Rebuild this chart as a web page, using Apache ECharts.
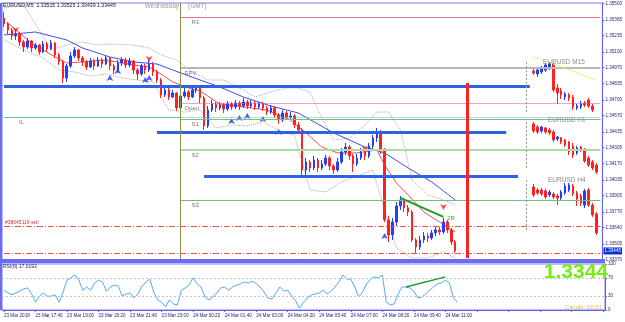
<!DOCTYPE html>
<html>
<head>
<meta charset="utf-8">
<script src="https://cdn.jsdelivr.net/npm/echarts@6/dist/echarts.min.js"></script>
<style>
  html, body { margin: 0; padding: 0; background: #fff; }
  #chart { width: 625px; height: 322px; }
</style>
</head>
<body>
<div id="chart"></div>
<script>
// ---- data ----
const slotCount = 153; // bar slots across the window (incl. right shift)
const tickLabels = ['23 Mar 2018', '23 Mar 17:40', '23 Mar 19:00', '23 Mar 20:20', '23 Mar 21:40',
  '23 Mar 23:00', '24 Mar 00:20', '24 Mar 01:40', '24 Mar 03:00', '24 Mar 04:20',
  '24 Mar 05:40', '24 Mar 07:00', '24 Mar 08:20', '24 Mar 09:40', '24 Mar 11:00'];
const priceTicks = [1.35500, 1.35365, 1.35235, 1.35100, 1.34970, 1.34835, 1.34700, 1.34570, 1.34435,
  1.34305, 1.34170, 1.34035, 1.33905, 1.33770, 1.33640, 1.33505, 1.33370];
const rsiTicks = [0, 30, 70, 100];

// EURUSD M5 bars: [open, close, low, high]
const candles = [
  [1.35381,1.35332,1.35307,1.35431],[1.35332,1.35282,1.35248,1.35348],[1.35282,1.35232,1.35199,1.35298],
  [1.35232,1.35248,1.35199,1.35282],[1.35248,1.35182,1.35149,1.35265],[1.35182,1.35140,1.35099,1.35199],
  [1.35140,1.35190,1.35124,1.35215],[1.35190,1.35132,1.35099,1.35199],[1.35132,1.35157,1.35116,1.35174],
  [1.35157,1.35099,1.35074,1.35165],[1.35099,1.35165,1.35091,1.35190],[1.35165,1.35124,1.35099,1.35182],
  [1.35124,1.35174,1.35116,1.35199],[1.35174,1.35074,1.35049,1.35182],[1.35074,1.35016,1.34991,1.35091],
  [1.35016,1.34883,1.34841,1.35032],[1.34883,1.34983,1.34850,1.34999],[1.34983,1.35066,1.34966,1.35099],
  [1.35066,1.35116,1.35049,1.35140],[1.35116,1.35049,1.35024,1.35124],[1.35049,1.35016,1.34983,1.35066],
  [1.35016,1.34974,1.34949,1.35032],[1.34974,1.35024,1.34966,1.35049],[1.35024,1.34983,1.34949,1.35041],
  [1.34983,1.35032,1.34974,1.35057],[1.35032,1.34999,1.34966,1.35049],[1.34999,1.35049,1.34991,1.35066],
  [1.35049,1.34983,1.34949,1.35057],[1.34983,1.34949,1.34916,1.34999],[1.34949,1.35007,1.34933,1.35032],
  [1.35007,1.35032,1.34983,1.35057],[1.35032,1.34991,1.34966,1.35049],[1.34991,1.35024,1.34974,1.35049],
  [1.35024,1.34949,1.34916,1.35032],[1.34949,1.34916,1.34866,1.34966],[1.34916,1.34983,1.34899,1.34999],
  [1.34983,1.34949,1.34916,1.34999],[1.34949,1.34999,1.34933,1.35032],[1.34999,1.34933,1.34899,1.35016],
  [1.34933,1.34866,1.34841,1.34949],[1.34866,1.34742,1.34717,1.34883],[1.34742,1.34783,1.34725,1.34816],
  [1.34783,1.34725,1.34700,1.34800],[1.34725,1.34758,1.34717,1.34783],[1.34758,1.34634,1.34609,1.34766],
  [1.34634,1.34733,1.34617,1.34758],[1.34733,1.34766,1.34717,1.34816],[1.34766,1.34725,1.34700,1.34783],
  [1.34725,1.34783,1.34717,1.34816],[1.34783,1.34800,1.34758,1.34825],[1.34800,1.34717,1.34675,1.34816],
  [1.34717,1.34484,1.34451,1.34733],[1.34484,1.34617,1.34467,1.34650],[1.34617,1.34667,1.34600,1.34700],
  [1.34667,1.34634,1.34600,1.34683],[1.34634,1.34658,1.34617,1.34683],[1.34658,1.34625,1.34592,1.34675],
  [1.34625,1.34667,1.34609,1.34692],[1.34667,1.34642,1.34617,1.34683],[1.34642,1.34675,1.34625,1.34700],
  [1.34675,1.34650,1.34617,1.34692],[1.34650,1.34683,1.34634,1.34717],[1.34683,1.34650,1.34625,1.34700],
  [1.34650,1.34675,1.34634,1.34700],[1.34675,1.34642,1.34617,1.34692],[1.34642,1.34667,1.34625,1.34683],
  [1.34667,1.34634,1.34609,1.34683],[1.34634,1.34600,1.34575,1.34650],[1.34600,1.34634,1.34584,1.34658],
  [1.34634,1.34575,1.34550,1.34650],[1.34575,1.34534,1.34501,1.34592],[1.34534,1.34592,1.34517,1.34617],
  [1.34592,1.34559,1.34534,1.34609],[1.34559,1.34567,1.34534,1.34600],[1.34567,1.34492,1.34467,1.34584],
  [1.34492,1.34451,1.34426,1.34517],[1.34451,1.34118,1.34060,1.34467],[1.34118,1.34185,1.34077,1.34218],
  [1.34185,1.34135,1.34102,1.34201],[1.34135,1.34201,1.34118,1.34235],[1.34201,1.34135,1.34102,1.34218],
  [1.34135,1.34168,1.34118,1.34201],[1.34168,1.34218,1.34152,1.34243],[1.34218,1.34152,1.34118,1.34235],
  [1.34152,1.34118,1.34085,1.34168],[1.34118,1.34185,1.34102,1.34218],[1.34185,1.34268,1.34168,1.34301],
  [1.34268,1.34309,1.34243,1.34343],[1.34309,1.34235,1.34201,1.34326],[1.34235,1.34168,1.34102,1.34251],
  [1.34168,1.34218,1.34152,1.34251],[1.34218,1.34268,1.34201,1.34301],[1.34268,1.34235,1.34201,1.34285],
  [1.34235,1.34318,1.34218,1.34343],[1.34318,1.34384,1.34285,1.34409],[1.34384,1.34434,1.34351,1.34467],
  [1.34434,1.34285,1.34251,1.34451],[1.34285,1.33703,1.33686,1.34301],[1.33703,1.33578,1.33520,1.33736],
  [1.33578,1.33686,1.33537,1.33719],[1.33686,1.33819,1.33653,1.33852],[1.33819,1.33869,1.33786,1.33902],
  [1.33869,1.33803,1.33769,1.33886],[1.33803,1.33769,1.33736,1.33827],[1.33769,1.33537,1.33520,1.33786],
  [1.33537,1.33478,1.33429,1.33553],[1.33478,1.33537,1.33454,1.33570],[1.33537,1.33570,1.33512,1.33603],
  [1.33570,1.33553,1.33520,1.33595],[1.33553,1.33595,1.33537,1.33620],[1.33595,1.33620,1.33570,1.33653],
  [1.33620,1.33603,1.33578,1.33645],[1.33603,1.33686,1.33587,1.33719],[1.33686,1.33620,1.33595,1.33703],
  [1.33620,1.33520,1.33495,1.33636],[1.33520,1.33445,1.33429,1.33537]
];

// small multi-timeframe insets drawn in the right-hand shift area
const insetStart = 135;
const m15Bars = [
  [1.34941,1.34924,1.34908,1.34958],[1.34916,1.34949,1.34891,1.34966],[1.34933,1.34966,1.34916,1.34983],
  [1.34949,1.34991,1.34933,1.35007],[1.34966,1.34999,1.34949,1.35016],[1.34999,1.34783,1.34766,1.35007],
  [1.34800,1.34758,1.34667,1.34833],[1.34775,1.34742,1.34708,1.34800],[1.34725,1.34750,1.34700,1.34766],
  [1.34742,1.34717,1.34692,1.34758],[1.34725,1.34642,1.34617,1.34742],[1.34634,1.34650,1.34617,1.34667],
  [1.34642,1.34667,1.34625,1.34692],[1.34675,1.34658,1.34642,1.34692],[1.34700,1.34650,1.34634,1.34717],
  [1.34650,1.34617,1.34600,1.34667]
];
const h1Bars = [
  [1.34501,1.34442,1.34426,1.34517],[1.34476,1.34434,1.34417,1.34492],[1.34442,1.34476,1.34426,1.34484],
  [1.34467,1.34434,1.34417,1.34476],[1.34451,1.34426,1.34409,1.34467],[1.34434,1.34368,1.34351,1.34451],
  [1.34376,1.34393,1.34359,1.34401],[1.34384,1.34351,1.34334,1.34393],[1.34368,1.34326,1.34309,1.34376],
  [1.34351,1.34268,1.34243,1.34359],[1.34318,1.34243,1.34218,1.34343],[1.34260,1.34301,1.34243,1.34318],
  [1.34309,1.34285,1.34268,1.34318],[1.34285,1.34193,1.34177,1.34301],[1.34218,1.34160,1.34143,1.34235],
  [1.34185,1.34135,1.34118,1.34201],[1.34160,1.34102,1.34085,1.34177]
];
const h4Bars = [
  [1.33977,1.33911,1.33894,1.34002],[1.33952,1.33927,1.33911,1.33969],[1.33952,1.33919,1.33902,1.33969],
  [1.33944,1.33894,1.33877,1.33960],[1.33911,1.33935,1.33894,1.33952],[1.33919,1.33894,1.33877,1.33935],
  [1.33902,1.33886,1.33827,1.33919],[1.33886,1.33935,1.33869,1.33952],[1.33927,1.33985,1.33911,1.34010],
  [1.33952,1.33994,1.33935,1.34010],[1.33985,1.33919,1.33902,1.34002],[1.33927,1.33877,1.33819,1.33944],
  [1.33902,1.33844,1.33819,1.33919],[1.33827,1.33944,1.33803,1.33960],[1.33952,1.33827,1.33811,1.33969],
  [1.33827,1.33745,1.33728,1.33844],[1.33753,1.33595,1.33578,1.33769]
];

// indicator lines: [bar, price]
const slowMa = [[0,1.35240],[8,1.35265],[16,1.35199],[20,1.35132],[27,1.35057],[33,1.35016],[39,1.34999],
  [43,1.34949],[50,1.34866],[55,1.34808],[61,1.34725],[68,1.34650],[75,1.34592],[84,1.34426],[92,1.34309],
  [97,1.34260],[103,1.34135],[109,1.34019],[115,1.33869]];
const fastMa = [[1,1.35340],[4,1.35257],[7,1.35174],[13,1.35057],[16,1.35007],[20,1.35016],[25,1.35032],
  [29,1.35016],[33,1.34991],[37,1.34974],[40,1.34916],[43,1.34850],[47,1.34800],[50,1.34775],[55,1.34667],
  [67,1.34617],[73,1.34534],[77,1.34426],[81,1.34309],[85,1.34260],[90,1.34260],[95,1.34285],[97,1.34160],
  [100,1.34010],[103,1.33911],[107,1.33769],[111,1.33686],[115,1.33603]];
const upperBand = [[0,1.35465],[5,1.35489],[9,1.35282],[12,1.35116],[16,1.35157],[20,1.35182],[24,1.35157],
  [28,1.35165],[33,1.35157],[37,1.35132],[40,1.35074],[44,1.35032],[48,1.34933],[52,1.34866],[56,1.34866],
  [60,1.34800],[64,1.34725],[68,1.34766],[72,1.34800],[75,1.34800],[78,1.34766],[80,1.34617],[84,1.34368],
  [88,1.34384],[92,1.34492],[95,1.34600],[98,1.34600],[101,1.34451],[104,1.34035],[108,1.33911],
  [112,1.33869],[115,1.33827]];
const lowerBand = [[0,1.35199],[5,1.35116],[10,1.35049],[14,1.34949],[18,1.34933],[22,1.34899],[26,1.34916],
  [30,1.34883],[34,1.34866],[38,1.34850],[42,1.34617],[46,1.34600],[50,1.34617],[54,1.34467],[58,1.34492],
  [62,1.34484],[66,1.34517],[70,1.34451],[74,1.34409],[78,1.33952],[82,1.33935],[86,1.34019],[90,1.34069],
  [94,1.34118],[97,1.33786],[100,1.33470],[104,1.33387],[108,1.33387],[112,1.33437],[115,1.33387]];

const buyArrows = [[27,1.34908],[29,1.34966],[36,1.34891],[37,1.34908],[58,1.34550],[60,1.34575],
  [62,1.34592],[66,1.34567],[70,1.34459],[97,1.33595]];
const sellArrows = [[3,1.35257],[37,1.35016],[92,1.34268],[112,1.33786]];

// RSI(8), one value per bar
const rsiValues = [43,37,33,37,41,46,48,35,17,30, 37,30,30,33,17,39,65,70,76,65,
  43,50,43,59,65,61,41,50,54,52, 30,35,37,26,35,52,61,67,39,22,
  17,7,22,13,11,43,48,54,70,57, 50,28,22,28,37,48,50,43,50,54,
  57,61,59,63,57,50,39,26,24,37, 50,41,43,30,20,4,17,26,33,35,
  37,43,35,41,50,61,76,67,67,50, 28,39,57,67,72,70,76,17,11,13,
  35,50,50,48,41,26,28,35,43,50, 57,59,65,59,28,17];
const rsiDivergence = [[102,50],[112,72]];
const priceTrend = [[101,1.33886],[112,1.33728]];

// pivot levels of the day
const dayStart = 45;
const levelNames = ['R1', 'EPV', 'Open', 'S1', 'S2', 'S3'];
const levelValues = [1.35390, 1.34966, 1.34675, 1.34542, 1.34285, 1.33869];
const ilLevel = 1.34559;
const zoneValues = [1.34816, 1.34434, 1.34069];
const zoneFrom = [0, 39, 51];
const zoneTo = [134, 128, 131];
const sellLevels = [1.33653, 1.33429];
const lastPrice = 1.33445;
const signalBar = 118;
const signalRange = [1.34841, 1.33386];

// ---- chart ----
const FONT = 'Liberation Sans';
const slots = Array.from({ length: slotCount }, (_, i) => String(i));
const lastSlot = slotCount - 1;

const levelStyles = [
  { color: '#e07a7a', width: 1, type: 'solid' },
  { color: '#b8b8b8', width: 2, type: 'solid' },
  { color: '#d0509a', width: 1, type: 'dotted' },
  { color: '#74c074', width: 1, type: 'solid' },
  { color: '#a9dba2', width: 2, type: 'solid' },
  { color: '#74c074', width: 1, type: 'solid' }
];

function seg(p1, p2, style, label) {
  const a = { coord: p1, lineStyle: style };
  if (label) a.label = Object.assign({ show: true }, label);
  return [a, { coord: p2 }];
}
const smallLabel = { color: '#777', fontSize: 6, fontFamily: FONT, position: 'insideStartBottom', distance: 2 };

const priceMarks = [];
levelNames.forEach((n, k) => {
  priceMarks.push(seg([dayStart, levelValues[k]], [lastSlot, levelValues[k]], levelStyles[k],
    Object.assign({}, smallLabel, { formatter: n, padding: [0, 0, 0, k === 1 || k === 2 ? 2 : 9] })));
});
priceMarks.push(seg([0, ilLevel], [dayStart, ilLevel], { color: '#66b9c8', width: 1, type: 'solid' },
  Object.assign({}, smallLabel, { formatter: 'IL', padding: [0, 0, 0, 13] })));
priceMarks.push(seg([dayStart, ilLevel], [lastSlot, ilLevel], { color: '#66b9c8', width: 1, type: 'dotted' }));
zoneValues.forEach((v, k) => {
  priceMarks.push(seg([zoneFrom[k], v], [zoneTo[k], v], { color: '#2e62e4', width: 3, type: 'solid' }));
});
priceMarks.push({ xAxis: dayStart, lineStyle: { color: '#8e8e52', width: 1, type: 'solid' } });
sellLevels.forEach((v, k) => {
  priceMarks.push(seg([0, v], [lastSlot, v], { color: '#ff4a4a', width: 1, type: [6, 2, 1, 2] },
    k === 0 ? { formatter: '#38045119 sell', position: 'insideStartTop', color: '#d03030', fontSize: 5,
      fontFamily: FONT, distance: 1 } : null));
});
priceMarks.push(seg([signalBar, signalRange[0]], [signalBar, signalRange[1]], { color: '#ff2222', width: 3, type: 'solid' }));
priceMarks.push(seg(priceTrend[0], priceTrend[1], { color: '#23992c', width: 2, type: 'solid' },
  { formatter: '2R', position: 'end', color: '#3cb043', fontSize: 6, fontFamily: FONT, distance: 4 }));
// inset separators and the M15 trend hint
[[1.35016, 1.34600], [1.34517, 1.34118], [1.34035, 1.33603]].forEach(r => {
  priceMarks.push(seg([133, r[0]], [133, r[1]], { color: '#9a9a9a', width: 1, type: [2, 2] }));
});
priceMarks.push(seg([insetStart, 1.35057], [lastSlot - 1, 1.34866], { color: '#eeee55', width: 1.5, type: 'dotted' }));
// current bid marker on the price scale
priceMarks.push(seg([lastSlot - 1, lastPrice], [lastSlot, lastPrice], { color: 'rgba(0,0,0,0)', width: 1 },
  { position: 'end', formatter: lastPrice.toFixed(5), backgroundColor: '#0b2fd6', color: '#ffffff',
    fontSize: 4.6, fontFamily: FONT, padding: [1, 1, 1, 1], distance: 3 }));

const candleStyle = { color: '#2040ff', color0: '#ff2020', borderColor: '#2040ff', borderColor0: '#ff2020', borderWidth: 1 };
function insetSeries(name, rows) {
  return {
    name: name, type: 'candlestick', xAxisIndex: 0, yAxisIndex: 0, barWidth: 2,
    data: rows.map((r, k) => [insetStart + k].concat(r)),
    encode: { x: 0, y: [1, 2, 3, 4] },
    itemStyle: candleStyle
  };
}
function lineSeries(name, data, color, type) {
  return { name: name, type: 'line', xAxisIndex: 0, yAxisIndex: 0, data: data, symbol: 'none',
    lineStyle: { color: color, width: 1, type: type || 'solid' }, z: 1 };
}

const axisText = { fontSize: 4.6, fontFamily: FONT, color: '#1d1d72' };

const option = {
  animation: false,
  backgroundColor: '#ffffff',
  grid: [
    { left: 2, right: 20, top: 3, height: 257, show: true, borderColor: '#7b7bf2', borderWidth: 1 },
    { left: 2, right: 20, top: 264, height: 46, show: true, borderColor: '#7b7bf2', borderWidth: 1 }
  ],
  xAxis: [
    { type: 'category', gridIndex: 0, data: slots, boundaryGap: true,
      axisLine: { show: false }, axisTick: { show: false }, axisLabel: { show: false }, splitLine: { show: false } },
    { type: 'category', gridIndex: 1, data: slots, boundaryGap: true,
      axisLine: { show: true, lineStyle: { color: '#6060f0' } },
      axisTick: { show: true, length: 2, interval: (i) => i % 8 === 0, alignWithLabel: true, lineStyle: { color: '#6060f0' } },
      axisLabel: Object.assign({ interval: (i) => i % 8 === 0 && i / 8 < tickLabels.length,
        formatter: (v, i) => tickLabels[Math.round(Number(v) / 8)] || '', align: 'left', margin: 3 }, axisText),
      splitLine: { show: false } }
  ],
  yAxis: [
    { type: 'value', gridIndex: 0, position: 'right', min: 1.33370, max: 1.35506, scale: true,
      axisLine: { show: true, lineStyle: { color: '#6060f0' } },
      axisTick: { show: true, length: 2, customValues: priceTicks, lineStyle: { color: '#6060f0' } },
      axisLabel: Object.assign({ customValues: priceTicks, formatter: (v) => v.toFixed(5), margin: 3 }, axisText),
      splitLine: { show: false } },
    { type: 'value', gridIndex: 1, position: 'right', min: 0, max: 100,
      axisLine: { show: true, lineStyle: { color: '#6060f0' } },
      axisTick: { show: true, length: 2, customValues: rsiTicks, lineStyle: { color: '#6060f0' } },
      axisLabel: Object.assign({ customValues: rsiTicks, margin: 3 }, axisText),
      splitLine: { show: false } }
  ],
  series: [
    lineSeries('upper', upperBand, '#a8a8a8', 'dotted'),
    lineSeries('lower', lowerBand, '#a8a8a8', 'dotted'),
    lineSeries('slow MA', slowMa, '#3d4fe8'),
    lineSeries('fast MA', fastMa, '#f05050'),
    {
      name: 'EURUSD,M5', type: 'candlestick', xAxisIndex: 0, yAxisIndex: 0, data: candles, barWidth: 2,
      itemStyle: candleStyle, z: 3,
      markLine: { silent: true, symbol: ['none', 'none'], animation: false, label: { show: false }, data: priceMarks }
    },
    insetSeries('EURUSD M15', m15Bars),
    insetSeries('EURUSD H1', h1Bars),
    insetSeries('EURUSD H4', h4Bars),
    { name: 'buy', type: 'scatter', xAxisIndex: 0, yAxisIndex: 0, data: buyArrows, symbol: 'arrow',
      symbolSize: [5, 6], itemStyle: { color: '#1530ff' }, z: 4 },
    { name: 'sell', type: 'scatter', xAxisIndex: 0, yAxisIndex: 0, data: sellArrows, symbol: 'arrow',
      symbolRotate: 180, symbolSize: [5, 6], itemStyle: { color: '#ff2020' }, z: 4 },
    {
      name: 'RSI(8)', type: 'line', xAxisIndex: 1, yAxisIndex: 1, data: rsiValues, symbol: 'none',
      lineStyle: { color: '#55a8f5', width: 1 },
      markLine: { silent: true, symbol: ['none', 'none'], label: { show: false }, data: [
        { yAxis: 70, lineStyle: { color: '#c4c4c4', width: 1, type: [2, 2] } },
        { yAxis: 30, lineStyle: { color: '#c4c4c4', width: 1, type: [2, 2] } },
        [{ coord: rsiDivergence[0], lineStyle: { color: '#1f9a2a', width: 1.5, type: 'solid' } }, { coord: rsiDivergence[1] }]
      ] }
    }
  ],
  graphic: [
    { type: 'rect', shape: { x: 0, y: 259, width: 605, height: 4 }, style: { fill: '#6b6bf5' }, z: 10 },
    { type: 'rect', shape: { x: 0, y: 3, width: 2, height: 307 }, style: { fill: '#6b6bf5' }, z: 10 },
    { type: 'text', x: 3, y: 3, style: { text: 'EURUSD,M5  1.33515 1.33525 1.33439 1.33445', fontSize: 5.2, fontFamily: FONT, fill: '#111' }, z: 10 },
    { type: 'text', x: 179, y: 3, style: { text: 'Wednesday', textAlign: 'right', fontSize: 6.5, fontFamily: FONT, fill: '#9a9a9a' }, z: 10 },
    { type: 'text', x: 188, y: 3, style: { text: '(GMT)', fontSize: 6.5, fontFamily: FONT, fill: '#9a9a9a' }, z: 10 },
    { type: 'text', x: 543, y: 59, style: { text: 'EURUSD M15', fontSize: 6.5, fontFamily: FONT, fill: '#8c8c8c' }, z: 10 },
    { type: 'text', x: 548, y: 117, style: { text: 'EURUSD H1', fontSize: 6.5, fontFamily: FONT, fill: '#8c8c8c' }, z: 10 },
    { type: 'text', x: 548, y: 177, style: { text: 'EURUSD H4', fontSize: 6.5, fontFamily: FONT, fill: '#8c8c8c' }, z: 10 },
    { type: 'text', x: 3, y: 264, style: { text: 'RSI(8) 17.0192', fontSize: 5, fontFamily: FONT, fill: '#222266' }, z: 10 },
    { type: 'text', x: 608, y: 262, style: { text: '1.3344', textAlign: 'right', fontSize: 21, fontWeight: 'bold', fontFamily: FONT, fill: '#77ee11' }, z: 10 },
    { type: 'text', x: 602, y: 304, style: { text: 'Candle: 02:51', textAlign: 'right', fontSize: 6, fontFamily: FONT, fill: '#f4b640' }, z: 10 }
  ]
};

const chart = echarts.init(document.getElementById('chart'));
chart.setOption(option);
</script>
</body>
</html>
